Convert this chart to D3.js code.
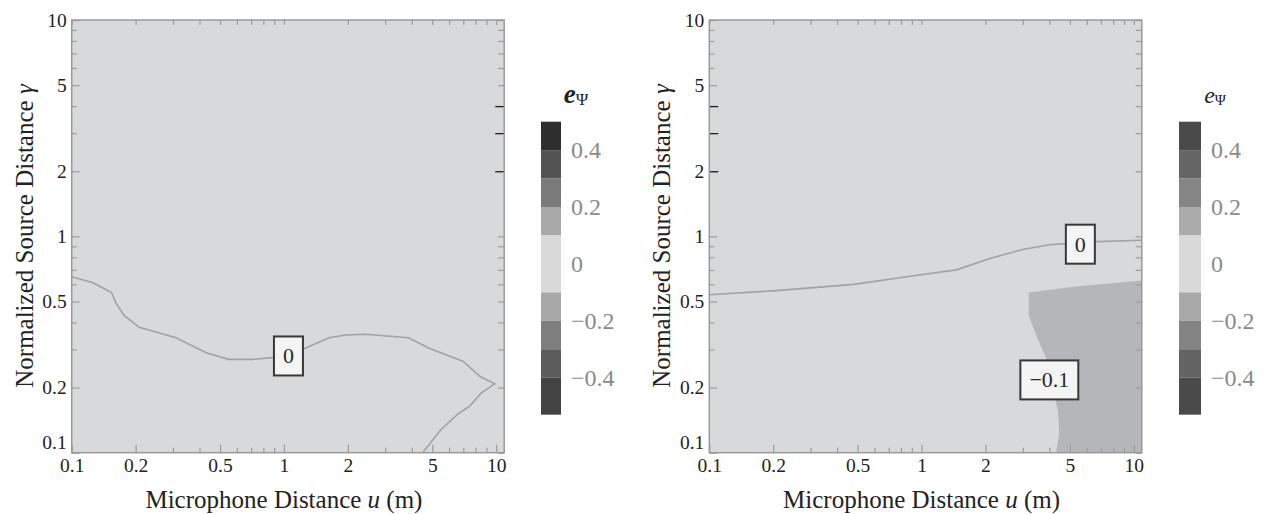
<!DOCTYPE html>
<html>
<head>
<meta charset="utf-8">
<script src="https://cdn.jsdelivr.net/npm/d3@7"></script>
<style>
  body { margin: 0; background: #fff; }
  svg text { font-family: "Liberation Serif", "DejaVu Serif", "Times New Roman", Times, serif !important; }
</style>
</head>
<body>
<div id="chart"></div>
<script>
// log ticks used on both panels
const tickMajor = [0.1, 0.2, 0.5, 1, 2, 5, 10];
const tickMinor = [0.3, 0.4, 0.6, 0.7, 0.8, 0.9, 3, 4, 6, 7, 8, 9];

// colour bar: band edges (top to bottom) and the tick labels
const legendEdges = [0.5, 0.4, 0.3, 0.2, 0.1, -0.1, -0.2, -0.3, -0.4, -0.53];
const legendTicks = [0.4, 0.2, 0, -0.2, -0.4];
const legendColorsLeft = ["#2e2e2e", "#535353", "#7a7a7a", "#a9a9a9", "#d9d9da", "#a8a8a8", "#7e7e7e", "#5c5c5c", "#434343"];
const legendColorsRight = ["#4a4a4a", "#656565", "#858585", "#ababab", "#d9d9da", "#a9a9a9", "#848484", "#636363", "#4a4a4a"];

// left panel, the 0 contour (u in m, gamma)
const leftZeroU = [0.1, 0.126, 0.154, 0.162, 0.177, 0.208, 0.31, 0.43, 0.55, 0.71, 0.88, 1.22, 1.63, 1.95, 2.42, 3.86, 4.8, 7.0, 8.4, 9.85, 8.5, 7.5, 6.6, 5.5, 4.5];
const leftZeroG = [0.65, 0.61, 0.55, 0.49, 0.43, 0.38, 0.34, 0.29, 0.27, 0.27, 0.275, 0.30, 0.34, 0.35, 0.353, 0.34, 0.305, 0.264, 0.225, 0.208, 0.189, 0.164, 0.151, 0.128, 0.1];
const leftLabelU = [1.05];
const leftLabelG = [0.28];
const leftLabelText = ["0"];

// right panel, the 0 contour and the -0.1 region
const rightZeroU = [0.1, 0.2, 0.48, 0.85, 1.46, 2.1, 3.0, 4.0, 6.7, 10.9];
const rightZeroG = [0.537, 0.56, 0.6, 0.65, 0.70, 0.79, 0.87, 0.915, 0.945, 0.96];
const rightNegU = [3.2, 5.2, 10.9, 10.9, 4.3, 4.45, 4.4, 4.17, 3.88, 3.54, 3.2];
const rightNegG = [0.55, 0.585, 0.625, 0.1, 0.1, 0.123, 0.153, 0.2, 0.27, 0.333, 0.43];
const rightLabelU = [5.6, 4.0];
const rightLabelG = [0.92, 0.217];
const rightLabelText = ["0", "−0.1"];

const width = 1269, height = 514;
const serif = '"Liberation Serif", "DejaVu Serif", serif';
const svg = d3.select("#chart").append("svg")
  .attr("width", width)
  .attr("height", height)
  .attr("font-family", serif);

const fmt = d => d < 0 ? "−" + Math.abs(d) : String(d);

function drawPanel(p) {
  const x = d3.scaleLog().domain([0.1, 10]).range([p.left, p.left + 424.5]);
  const y = d3.scaleLog().domain([0.1, 10]).range([452.7, 20]);
  const frameR = x(10) + 8;
  const top = y(10), bottom = y(0.1);
  const g = svg.append("g");

  const clipId = "clip" + p.id;
  g.append("clipPath").attr("id", clipId)
    .append("rect")
    .attr("x", x(0.1)).attr("y", top)
    .attr("width", frameR - x(0.1)).attr("height", bottom - top);

  g.append("rect")
    .attr("x", x(0.1)).attr("y", top)
    .attr("width", frameR - x(0.1)).attr("height", bottom - top)
    .attr("fill", "#d8d9db");

  const line = d3.line().x(d => x(d[0])).y(d => y(d[1]));
  const plot = g.append("g").attr("clip-path", `url(#${clipId})`);

  if (p.negU) {
    plot.append("path")
      .attr("d", line(d3.zip(p.negU, p.negG)) + "Z")
      .attr("fill", "#b5b6b9");
  }
  plot.append("path")
    .attr("d", line(d3.zip(p.zeroU, p.zeroG)))
    .attr("fill", "none")
    .attr("stroke", "#a2a2a2")
    .attr("stroke-width", 1.6);

  // ticks, all pointing inward
  const tickColor = "#9c9c9c";
  function styleAxis(sel) {
    sel.attr("font-family", serif);
    sel.select(".domain").remove();
    sel.selectAll(".tick line").attr("stroke", tickColor).attr("stroke-width", 1.2);
    sel.selectAll(".tick text")
      .attr("fill", "#222")
      .attr("font-size", 19.5);
  }
  g.append("g").attr("transform", `translate(0,${bottom})`)
    .call(d3.axisBottom(x).tickValues(tickMajor).tickSize(-8).tickPadding(5).tickFormat(fmt))
    .call(styleAxis);
  g.append("g").attr("transform", `translate(0,${bottom})`)
    .call(d3.axisBottom(x).tickValues(tickMinor).tickSize(-5).tickFormat(""))
    .call(styleAxis);
  const leftAx = g.append("g").attr("transform", `translate(${x(0.1)},0)`)
    .call(d3.axisLeft(y).tickValues(tickMajor).tickSize(-8).tickPadding(5).tickFormat(fmt))
    .call(styleAxis);
  g.append("g").attr("transform", `translate(${x(0.1)},0)`)
    .call(d3.axisLeft(y).tickValues(tickMinor).tickSize(-5).tickFormat(""))
    .call(styleAxis);
  g.append("g").attr("transform", `translate(0,${top})`)
    .call(d3.axisTop(x).tickValues(tickMajor.concat(tickMinor)).tickSize(-5).tickFormat(""))
    .call(styleAxis);
  g.append("g").attr("transform", `translate(${frameR},0)`)
    .call(d3.axisRight(y).tickValues(tickMajor.concat(tickMinor)).tickSize(-6).tickFormat(""))
    .call(styleAxis);

  // the lowest y label sits a bit higher so it clears the x labels
  leftAx.selectAll(".tick").filter(d => d === 0.1).select("text").attr("dy", "-0.2em");

  // a few darker ticks, as in the original
  const darkAxis = p.darkSide === "right"
    ? d3.axisRight(y).tickSize(-9) : d3.axisLeft(y).tickSize(-9);
  g.append("g").attr("transform", `translate(${p.darkSide === "right" ? frameR : x(0.1)},0)`)
    .call(darkAxis.tickValues([2, 3, 4]).tickFormat(""))
    .call(sel => { sel.select(".domain").remove(); sel.selectAll(".tick line").attr("stroke", "#222").attr("stroke-width", 1.3); });

  // frame
  g.append("rect")
    .attr("x", x(0.1)).attr("y", top)
    .attr("width", frameR - x(0.1)).attr("height", bottom - top)
    .attr("fill", "none")
    .attr("stroke", "#9a9a9a")
    .attr("stroke-width", 1.5);

  // contour labels
  p.labelText.forEach((t, i) => {
    const cx = x(p.labelU[i]), cy = y(p.labelG[i]);
    const lg = g.append("g");
    const box = lg.append("rect");
    const txt = lg.append("text")
      .attr("x", cx).attr("y", cy)
      .attr("text-anchor", "middle")
      .attr("dy", "0.34em")
      .attr("fill", "#2a2a2a")
      .attr("font-size", 22)
      .text(t);
    const w = txt.node().getComputedTextLength() + 18;
    box.attr("x", cx - w / 2).attr("y", cy - 19.5)
      .attr("width", w).attr("height", 39)
      .attr("fill", "#f4f4f4")
      .attr("stroke", "#383838")
      .attr("stroke-width", 2);
  });

  // axis titles
  g.append("text")
    .attr("x", x(1)).attr("y", 508)
    .attr("text-anchor", "middle")
    .attr("fill", "#222")
    .attr("font-size", 25)
    .call(t => {
      t.append("tspan").text("Microphone Distance ");
      t.append("tspan").attr("font-style", "italic").text("u");
      t.append("tspan").text(" (m)");
    });
  g.append("text")
    .attr("transform", `translate(${p.left - 39},236) rotate(-90)`)
    .attr("text-anchor", "middle")
    .attr("fill", "#222")
    .attr("font-size", 25)
    .call(t => {
      t.append("tspan").text("Normalized Source Distance ");
      t.append("tspan").attr("font-style", "italic").text("γ");
    });

  // colour bar
  const yLeg = d3.scaleLinear().domain([0.5, -0.4]).range([121.7, 377.7]);
  const cb = g.append("g");
  cb.selectAll("rect")
    .data(p.legendColors)
    .enter().append("rect")
    .attr("x", p.barX)
    .attr("y", (d, i) => yLeg(legendEdges[i]))
    .attr("width", p.barW)
    .attr("height", (d, i) => yLeg(legendEdges[i + 1]) - yLeg(legendEdges[i]))
    .attr("fill", d => d);
  cb.append("g").attr("transform", `translate(${p.barX + p.barW},0)`)
    .call(d3.axisRight(yLeg).tickValues(legendTicks).tickSize(0).tickPadding(10).tickFormat(fmt))
    .call(sel => {
      sel.attr("font-family", serif);
      sel.select(".domain").remove();
      sel.selectAll(".tick text")
        .attr("fill", "#8a8a8a")
        .attr("font-size", 24);
    });
  cb.append("text")
    .attr("x", p.titleX).attr("y", 103)
    .attr("text-anchor", "middle")
    .attr("fill", "#222")
    .call(t => {
      t.append("tspan").attr("font-style", "italic")
        .attr("font-weight", p.boldTitle ? "bold" : "normal")
        .attr("font-size", p.boldTitle ? 27 : 24).text("e");
      t.append("tspan").attr("dy", 2).attr("font-size", p.boldTitle ? 17 : 15).text("Ψ");
    });
}

drawPanel({
  id: "L", left: 71.7,
  zeroU: leftZeroU, zeroG: leftZeroG,
  labelU: leftLabelU, labelG: leftLabelG, labelText: leftLabelText,
  darkSide: "right",
  legendColors: legendColorsLeft, barX: 541, barW: 20, titleX: 576, boldTitle: true
});

drawPanel({
  id: "R", left: 709.3,
  zeroU: rightZeroU, zeroG: rightZeroG,
  negU: rightNegU, negG: rightNegG,
  labelU: rightLabelU, labelG: rightLabelG, labelText: rightLabelText,
  darkSide: "left",
  legendColors: legendColorsRight, barX: 1179, barW: 22, titleX: 1215, boldTitle: false
});
</script>
</body>
</html>
